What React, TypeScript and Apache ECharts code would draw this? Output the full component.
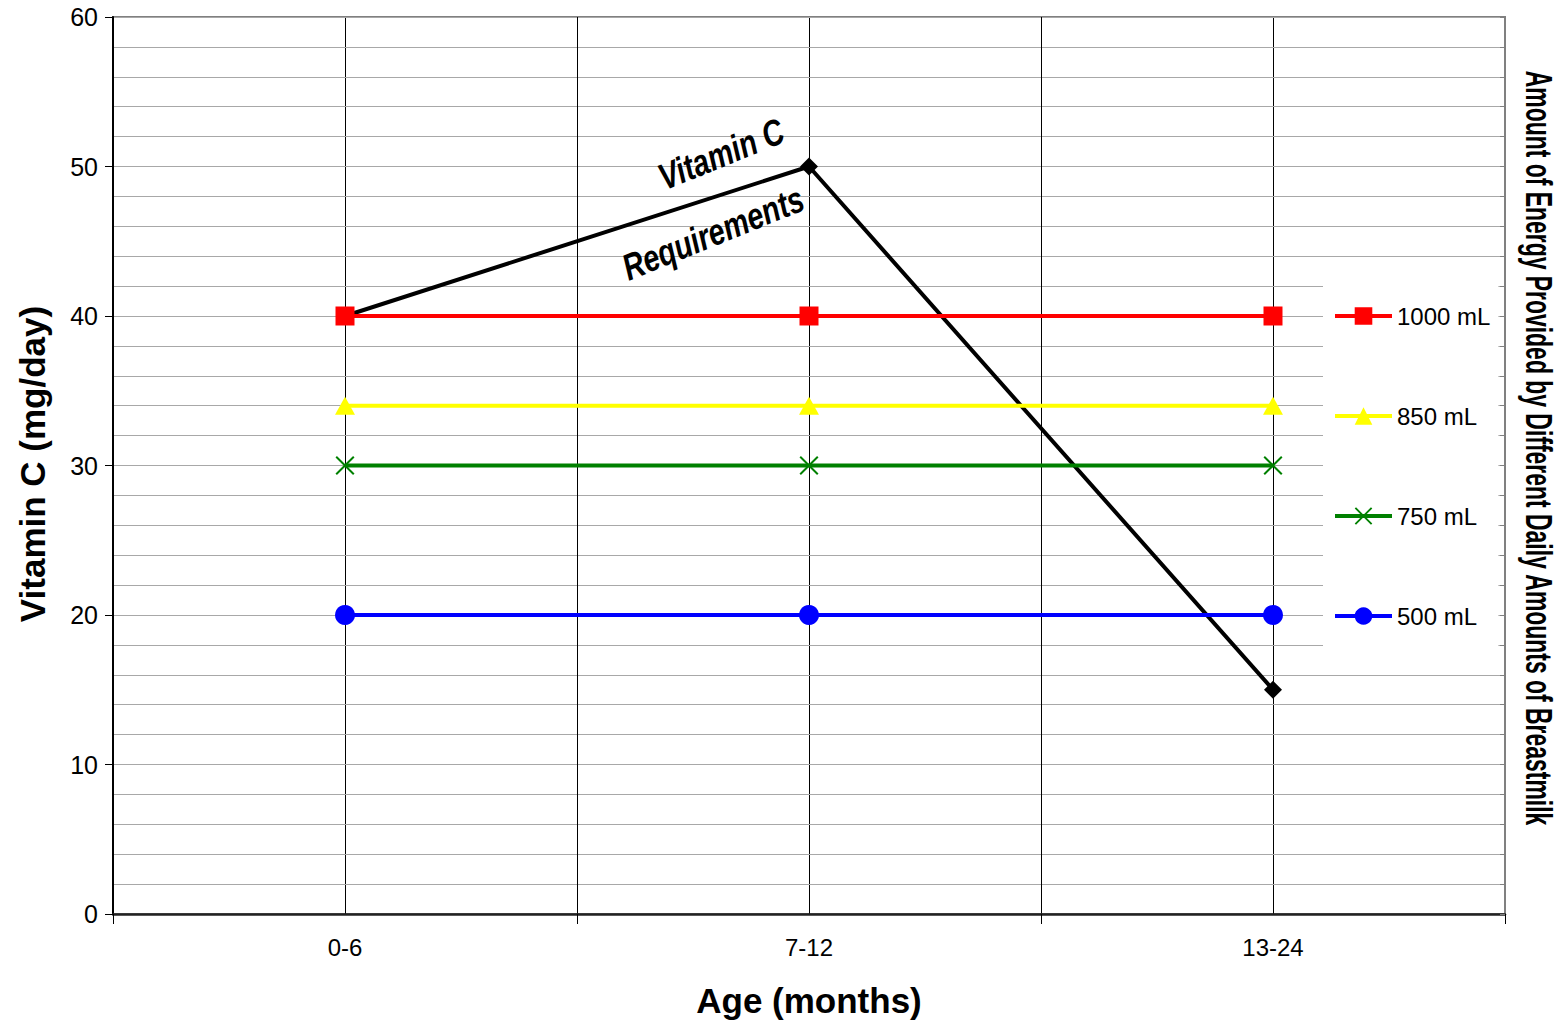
import React, { useEffect, useRef } from "react";
import * as echarts from "echarts";

const categories = ["0-6", "7-12", "13-24"];
const requirement = [40, 50, 15];
const ml1000 = [40, 40, 40];
const ml850 = [34, 34, 34];
const ml750 = [30, 30, 30];
const ml500 = [20, 20, 20];
const legendNames = ["1000 mL", "850 mL", "750 mL", "500 mL"];

const FONT = "Liberation Sans, Arial, sans-serif";
const X_SYMBOL =
  "path://M0,1.5 L1.5,0 L10,8.5 L18.5,0 L20,1.5 L11.5,10 L20,18.5 L18.5,20 L10,11.5 L1.5,20 L0,18.5 L8.5,10 Z";

export default function App() {
  const ref = useRef<HTMLDivElement>(null);
  useEffect(() => {
    const chart = echarts.init(ref.current!, null, { renderer: "svg" });
    const ROT = 0.384;
    chart.setOption({
      animation: false,
      textStyle: { fontFamily: FONT },
      grid: {
        left: 113,
        right: 58,
        top: 17,
        bottom: 111,
        show: true,
        borderColor: "#808080",
        borderWidth: 2,
        backgroundColor: "transparent",
      },
      legend: {
        data: legendNames,
        orient: "vertical",
        left: 1323,
        top: 270,
        padding: [32, 8, 31, 10],
        itemGap: 72,
        itemWidth: 57,
        itemHeight: 22,
        lineStyle: { width: 4 },
        backgroundColor: "#ffffff",
        textStyle: { fontSize: 24, color: "#000", lineHeight: 28, fontFamily: FONT },
      },
      xAxis: [
        {
          type: "category",
          data: categories,
          boundaryGap: true,
          axisLine: { lineStyle: { color: "#222", width: 2.5 } },
          axisTick: { show: true, length: 10, lineStyle: { color: "#000", width: 1 } },
          axisLabel: { fontSize: 24, color: "#000", margin: 21 },
          splitLine: { show: true, lineStyle: { color: "#000", width: 1 } },
          z: 3,
        },
        {
          type: "value",
          min: 0,
          max: 3,
          interval: 0.5,
          show: true,
          axisLine: { show: false },
          axisTick: { show: false },
          axisLabel: { show: false },
          splitLine: { show: true, lineStyle: { color: "#000", width: 1 } },
        },
      ],
      yAxis: [
        {
          type: "value",
          min: 0,
          max: 60,
          interval: 10,
          axisLine: { show: true, lineStyle: { color: "#000", width: 2 } },
          axisTick: { show: true, length: 8, lineStyle: { color: "#000" } },
          axisLabel: { fontSize: 25, color: "#000", margin: 15 },
          splitLine: { show: true, lineStyle: { color: "#a8a8a8", width: 1 } },
          minorTick: { show: false, splitNumber: 5 },
          minorSplitLine: { show: true, lineStyle: { color: "#a8a8a8", width: 1 } },
          z: 3,
        },
        {
          type: "value",
          position: "right",
          min: 0,
          max: 60,
          interval: 2,
          axisLine: { show: true, lineStyle: { color: "#808080", width: 2 } },
          axisTick: { show: true, inside: true, length: 5, lineStyle: { color: "#808080" } },
          axisLabel: { show: false },
          splitLine: { show: false },
          z: 3,
        },
      ],
      series: [
        {
          name: "Vitamin C Requirements",
          type: "line",
          data: requirement,
          symbol: "diamond",
          symbolSize: 18,
          lineStyle: { color: "#000", width: 4 },
          itemStyle: { color: "#000" },
          z: 4,
        },
        {
          name: "1000 mL",
          type: "line",
          data: ml1000,
          symbol: "rect",
          symbolSize: 19,
          lineStyle: { color: "#ff0000", width: 4 },
          itemStyle: { color: "#ff0000" },
          z: 5,
        },
        {
          name: "850 mL",
          type: "line",
          data: ml850,
          symbol: "triangle",
          symbolSize: [20, 18],
          lineStyle: { color: "#ffff00", width: 4 },
          itemStyle: { color: "#ffff00" },
          z: 5,
        },
        {
          name: "750 mL",
          type: "line",
          data: ml750,
          symbol: X_SYMBOL,
          symbolSize: 19,
          lineStyle: { color: "#008000", width: 4 },
          itemStyle: { color: "#008000" },
          z: 5,
        },
        {
          name: "500 mL",
          type: "line",
          data: ml500,
          symbol: "circle",
          symbolSize: 20,
          lineStyle: { color: "#0000ff", width: 4 },
          itemStyle: { color: "#0000ff" },
          z: 5,
        },
      ],
      graphic: [
        {
          type: "text",
          x: 32,
          y: 464,
          rotation: Math.PI / 2,
          style: {
            text: "Vitamin C (mg/day)",
            fontSize: 35,
            fontWeight: "bold",
            fontFamily: FONT,
            fill: "#000",
            align: "center",
            verticalAlign: "middle",
          },
        },
        {
          type: "text",
          x: 809,
          y: 1000,
          style: {
            text: "Age (months)",
            fontSize: 35,
            fontWeight: "bold",
            fontFamily: FONT,
            fill: "#000",
            align: "center",
            verticalAlign: "middle",
          },
        },
        {
          type: "text",
          x: 1539,
          y: 448,
          rotation: -Math.PI / 2,
          scaleX: 0.62,
          style: {
            text: "Amount of Energy Provided by Different Daily Amounts of Breastmilk",
            fontSize: 37,
            fontWeight: "bold",
            fontFamily: FONT,
            fill: "#000",
            align: "center",
            verticalAlign: "middle",
          },
        },
        {
          type: "text",
          x: 721,
          y: 154,
          rotation: ROT,
          scaleX: 0.78,
          z: 10,
          style: {
            text: "Vitamin C",
            fontSize: 37,
            fontWeight: "bold",
            fontStyle: "italic",
            fontFamily: FONT,
            fill: "#000",
            align: "center",
            verticalAlign: "middle",
          },
        },
        {
          type: "text",
          x: 713,
          y: 233,
          rotation: ROT,
          scaleX: 0.78,
          z: 10,
          style: {
            text: "Requirements",
            fontSize: 37,
            fontWeight: "bold",
            fontStyle: "italic",
            fontFamily: FONT,
            fill: "#000",
            align: "center",
            verticalAlign: "middle",
          },
        },
      ],
    });
    return () => chart.dispose();
  }, []);
  return <div ref={ref} style={{ width: 1563, height: 1025, position: "absolute", left: 0, top: 0 }} />;
}
